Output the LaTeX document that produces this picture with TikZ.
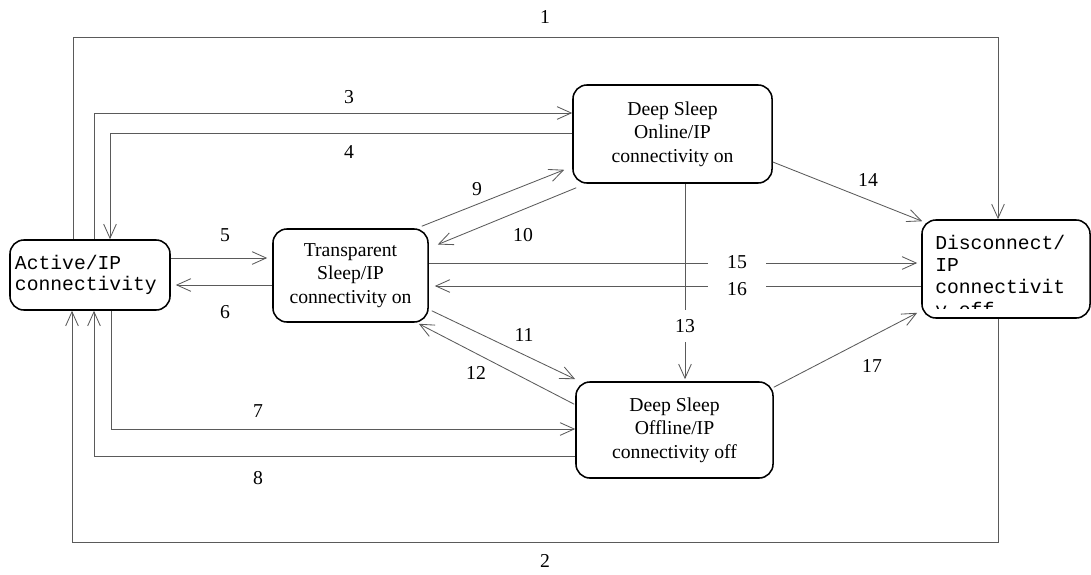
\documentclass[tikz,border=0pt]{standalone}
\usepackage{fontspec}
\setmainfont{Liberation Serif}
\setmonofont{Liberation Mono}
\usepackage{tikz}
\usetikzlibrary{arrows.meta,calc}
\definecolor{linegray}{RGB}{90,90,90}

\tikzset{
  state/.style={draw=black, line width=1.1pt, rounded corners=0.35cm, align=center,
    font=\fontsize{14}{16.8}\selectfont},
  ttstate/.style={state, align=left, font=\ttfamily\fontsize{14}{14.6}\selectfont},
  link/.style={draw=linegray, line width=0.6pt, -{Straight Barb[length=10pt,width=9pt]}},
  num/.style={font=\fontsize{14}{16}\selectfont, inner sep=1pt},
  gapnum/.style={num, fill=white}
}

\begin{document}
\begin{tikzpicture}[x=0.025cm, y=-0.025cm]
    \useasboundingbox (0,0) rectangle (1091,574);

    % States
    \node[ttstate, minimum width=4cm, minimum height=1.75cm, text width=3.75cm, inner xsep=0.125cm]
        (act) at (90,275) {Active/IP\\connectivity};
    \node[state, minimum width=3.875cm, minimum height=2.325cm]
        (trans) at (350.5,275.5) {Transparent\\Sleep/IP\\connectivity on};
    \node[state, minimum width=4.975cm, minimum height=2.45cm]
        (don) at (672.5,134) {Deep Sleep\\Online/IP\\connectivity on};
    \node[state, minimum width=4.925cm, minimum height=2.4cm]
        (doff) at (674.5,430) {Deep Sleep\\Offline/IP\\connectivity off};
    \node[state, minimum width=4.2cm, minimum height=2.45cm] (disc) at (1006,269) {};
    \begin{scope}
        \clip ($(disc.south west)+(3,-10)$) rectangle ($(disc.north east)+(-3,3)$);
        \node[anchor=north west, align=left, inner sep=0pt, font=\ttfamily\fontsize{14}{15.8}\selectfont]
            (disctext) at (935,235) {Disconnect/\\IP\\connectivit\\y off};
    \end{scope}

    % Outer loops
    \draw[link] (act.north -| 73,0) |- (998,37) -- (998,37 |- disc.north);
    \draw[link] (disc.south -| 998,0) |- (72,542) -- (72,542 |- act.south);

    % Active <-> deep sleep
    \draw[link] (act.north -| 94,0) |- (don.west |- 0,113);
    \draw[link] (don.west |- 0,133) -| (act.north -| 110,0);
    \draw[link] (act.south -| 111,0) |- (doff.west |- 0,429);
    \draw[link] (doff.west |- 0,456) -| (act.south -| 94,0);

    % Active <-> transparent
    \draw[link] (act.east |- 0,258) -- ($(trans.west |- 0,258)+(-5,0)$);
    \draw[link] (trans.west |- 0,285) -- ($(act.east |- 0,285)+(5,0)$);

    % Transparent <-> deep sleep
    \draw[link] ($(trans.north east)+(-7,-2)$) -- ($(don.south west)+(-8,-14)$);
    \draw[link] ($(don.south west)+(4,4)$) -- ($(trans.east)+(9,-31)$);
    \draw[link] ($(trans.south east)+(3,-12)$) -- ($(doff.north west)+(0,-2)$);
    \draw[link] ($(doff.north west)+(-1,23)$) -- ($(trans.south east)+(-10,1)$);
    \draw[link] (don.south -| 685,0) -- ($(doff.north -| 685,0)+(0,-2)$);

    % To and from disconnect
    \draw[link] ($(don.east)+(0,28)$) -- ($(disc.north west)+(1,2)$);
    \draw[link] (trans.east |- 0,263) -- ($(disc.west |- 0,263)+(-4,0)$);
    \draw[link] (disc.west |- 0,286) -- ($(trans.east |- 0,286)+(6,0)$);
    \draw[link] ($(doff.north east)+(0,6)$) -- ($(disc.south west)+(-4,-6)$);

    % Transition numbers
    \node[num] (n1) at (545,17) {1};
    \node[num] (n2) at (545,561) {2};
    \node[num] (n3) at (349,97) {3};
    \node[num] (n4) at (349,152) {4};
    \node[num] (n5) at (225,235) {5};
    \node[num] (n6) at (225,312) {6};
    \node[num] (n7) at (258,411) {7};
    \node[num] (n8) at (258,478) {8};
    \node[num] (n9) at (477,189) {9};
    \node[num] (n10) at (523,235) {10};
    \node[num] (n11) at (524,335) {11};
    \node[num] (n12) at (476,373) {12};
    \node[gapnum, inner ysep=0.24cm] (n13) at (685,326) {13};
    \node[num] (n14) at (868,180) {14};
    \node[gapnum, inner xsep=0.49cm] (n15) at (737,262) {15};
    \node[gapnum, inner xsep=0.49cm] (n16) at (737,289) {16};
    \node[num] (n17) at (872,366) {17};
\end{tikzpicture}
\end{document}
